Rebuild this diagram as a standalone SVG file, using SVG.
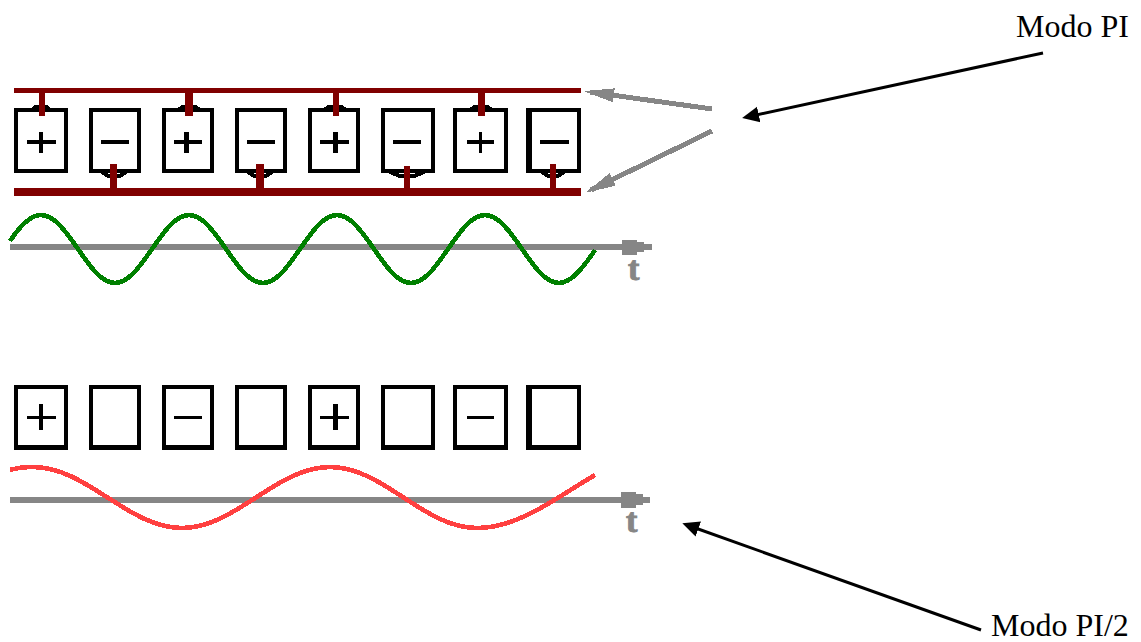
<svg xmlns="http://www.w3.org/2000/svg" width="1141" height="642" viewBox="0 0 1141 642">
  <style>
    .cell { fill: #fff; stroke: #000; stroke-width: 4; shape-rendering: crispEdges; }
    .cell-low { fill: #fff; stroke: #000; stroke-width: 4; shape-rendering: crispEdges; }
    .sign { fill: #000; shape-rendering: crispEdges; }
    .bump { fill: none; stroke: #000; stroke-width: 3; shape-rendering: crispEdges; }
    .bar { fill: #800000; shape-rendering: crispEdges; }
    .axis { fill: #868686; shape-rendering: crispEdges; }
    .wave { fill: none; stroke-width: 4.6; shape-rendering: crispEdges; }
    .gray { fill: none; stroke: #868686; stroke-width: 5; shape-rendering: crispEdges; }
    .black { fill: none; stroke: #000; stroke-width: 3; }
    .label { font-family: "Liberation Serif", "Times New Roman", serif; font-size: 32px; fill: #000; }
    .t { font-family: "Liberation Serif", "Times New Roman", serif; font-size: 34px; font-weight: bold; fill: #868686; stroke: #868686; stroke-width: 1; }
  </style>
  <defs>
    <marker id="head-black" markerUnits="userSpaceOnUse" markerWidth="20" markerHeight="20" viewBox="0 0 20 20" refX="12" refY="10" orient="auto">
      <polygon points="0,2 17,10 0,18" fill="#000"/>
    </marker>
    <marker id="head-gray" markerUnits="userSpaceOnUse" markerWidth="32" markerHeight="18" viewBox="0 0 32 18" refX="24" refY="9" orient="auto">
      <polygon points="0,2 30,9 0,16" fill="#868686" shape-rendering="crispEdges"/>
    </marker>
  </defs>

  <g id="cell-top-1"><rect class="cell" x="16" y="110" width="50" height="61"/><polyline class="bump" points="31,110 36,106 46,106 51,110"/><path class="sign" d="M27 140h29v4h-29zM39 132h4v21h-4z"/></g>
  <g id="cell-top-2"><rect class="cell" x="91" y="110" width="48" height="61"/><polyline class="bump" points="102,172 108,176 120,176 126,172" style="stroke-width:4"/><path class="sign" d="M101 140h28v4h-28z"/></g>
  <g id="cell-top-3"><rect class="cell" x="164" y="110" width="48" height="61"/><polyline class="bump" points="177,110 183,106 195,106 201,110"/><path class="sign" d="M174 140h28v4h-28zM184 132h5v21h-5z"/></g>
  <g id="cell-top-4"><rect class="cell" x="237" y="110" width="48" height="61"/><polyline class="bump" points="248,172 254,176 266,176 272,172" style="stroke-width:4"/><path class="sign" d="M247 140h28v4h-28z"/></g>
  <g id="cell-top-5"><rect class="cell" x="310" y="110" width="48" height="61"/><polyline class="bump" points="323,110 329,106 341,106 347,110"/><path class="sign" d="M320 140h29v4h-29zM333 132h5v21h-5z"/></g>
  <g id="cell-top-6"><rect class="cell" x="383" y="110" width="50" height="61"/><polyline class="bump" points="390,172 400,176 414,176 424,172" style="stroke-width:4"/><path class="sign" d="M393 140h28v4h-28z"/></g>
  <g id="cell-top-7"><rect class="cell" x="455" y="110" width="51" height="61"/><polyline class="bump" points="469,110 475,106 487,106 493,110"/><path class="sign" d="M467 140h27v4h-27zM479 132h3v21h-3z"/></g>
  <g id="cell-top-8"><rect class="cell" x="529" y="110" width="50" height="61"/><rect class="sign" x="526" y="108" width="6" height="65"/><polyline class="bump" points="542,172 548,176 558,176 564,172" style="stroke-width:4"/><path class="sign" d="M540 140h29v4h-29z"/></g>

  <g id="bar-top"><rect class="bar" x="14" y="88" width="567" height="5"/></g>
  <g id="bar-bottom"><rect class="bar" x="14" y="188" width="567" height="8"/></g>

  <g id="connectors">
    <g id="stubs" class="bar">
      <rect x="39" y="93" width="6" height="23"/>
      <rect x="185" y="93" width="8" height="23"/>
      <rect x="333" y="93" width="6" height="23"/>
      <rect x="478" y="93" width="7" height="23"/>
      <rect x="110" y="164" width="7" height="24"/>
      <rect x="256" y="164" width="8" height="24"/>
      <rect x="404" y="166" width="6" height="22"/>
      <rect x="550" y="164" width="6" height="24"/>
    </g>
    <line class="gray" x1="712" y1="109" x2="590" y2="92" marker-end="url(#head-gray)"/>
    <line class="gray" x1="712" y1="131" x2="591" y2="190" marker-end="url(#head-gray)"/>
    <line class="black" x1="1043" y1="53" x2="747" y2="117" marker-end="url(#head-black)"/>
    <line class="black" x1="981" y1="630" x2="687" y2="525" marker-end="url(#head-black)"/>
  </g>

  <g id="axis-top">
    <path class="axis" d="M10 244H622V240H637V242H644V244H652V250H644V252H637V255H622V250H10Z"/>
    <text class="t" x="628" y="280">t</text>
  </g>
  <path id="wave-green" class="wave" stroke="#008000" d="M10 241C20 226 30 215 41 215C68 215 88 283 115 283C142 283 162 215 189 215C216 215 236 283 263 283C290 283 310 215 337 215C364 215 384 283 411 283C438 283 458 215 485 215C512 215 532 283 559 283C572 283 585 265 595 250"/>

  <g id="cell-low-1"><path class="cell-low" d="M16 387H66V448H16Z"/><rect class="sign" x="14" y="445" width="54" height="5"/><path class="sign" d="M27 416h29v3h-29zM39 404h4v26h-4z"/></g>
  <g id="cell-low-2"><path class="cell-low" d="M91 387H139V448H91Z"/><rect class="sign" x="89" y="445" width="52" height="5"/></g>
  <g id="cell-low-3"><path class="cell-low" d="M164 387H212V448H164Z"/><rect class="sign" x="162" y="445" width="52" height="5"/><path class="sign" d="M174 416h28v3h-28z"/></g>
  <g id="cell-low-4"><path class="cell-low" d="M237 387H285V448H237Z"/><rect class="sign" x="235" y="445" width="52" height="5"/></g>
  <g id="cell-low-5"><path class="cell-low" d="M310 387H358V448H310Z"/><rect class="sign" x="308" y="445" width="52" height="5"/><path class="sign" d="M320 416h29v3h-29zM333 404h5v26h-5z"/></g>
  <g id="cell-low-6"><path class="cell-low" d="M383 387H433V448H383Z"/><rect class="sign" x="381" y="445" width="54" height="5"/></g>
  <g id="cell-low-7"><path class="cell-low" d="M455 387H506V448H455Z"/><rect class="sign" x="453" y="445" width="55" height="5"/><path class="sign" d="M467 416h27v3h-27z"/></g>
  <g id="cell-low-8"><path class="cell-low" d="M529 387H579V448H529Z"/><rect class="sign" x="526" y="385" width="6" height="65"/><rect class="sign" x="526" y="445" width="55" height="5"/></g>

  <g id="axis-bottom">
    <path class="axis" d="M10 497H621V492H636V494H643V497H650V503H643V505H636V508H621V503H10Z"/>
    <text class="t" x="626" y="532">t</text>
  </g>
  <path id="wave-red" class="wave" stroke="#ff4040" d="M10 470C17 468 25 467 33 467C87 467 128 528 182 528C236 528 276 467 330 467C384 467 423 528 477 528C520 528 560 495 595 475"/>

  <g id="label-pi"><text class="label" x="1016" y="37">Modo PI</text></g>
  <g id="label-pi2"><text class="label" x="991" y="636">Modo PI/2</text></g>
</svg>
